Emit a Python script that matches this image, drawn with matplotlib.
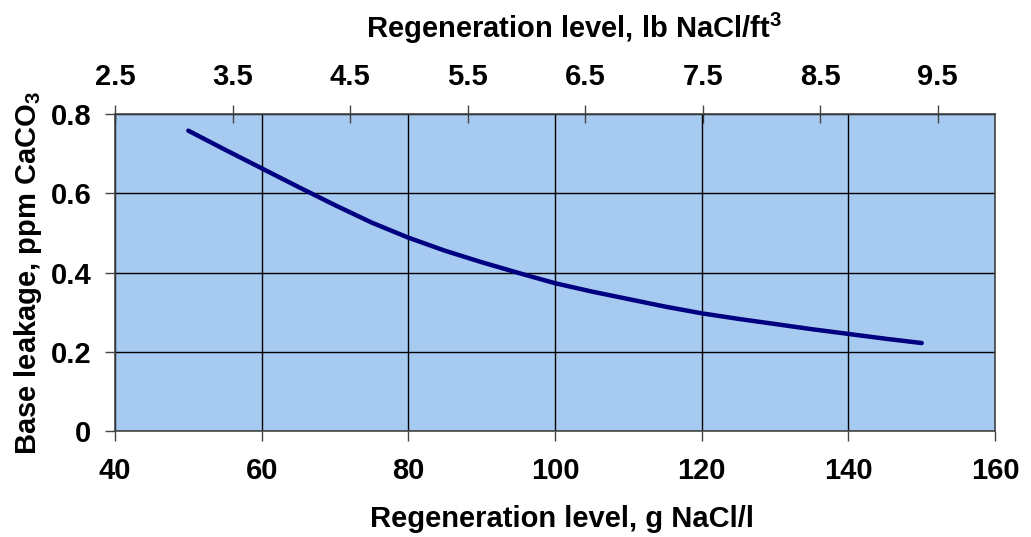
import matplotlib
matplotlib.use("Agg")
import matplotlib.pyplot as plt

plt.rcParams['font.family'] = ['Liberation Sans', 'DejaVu Sans']
plt.rcParams['font.weight'] = 'bold'
plt.rcParams['mathtext.fontset'] = 'custom'
plt.rcParams['mathtext.rm'] = 'Liberation Sans:bold'
plt.rcParams['mathtext.bf'] = 'Liberation Sans:bold'

# regeneration level (g NaCl/l) vs base leakage (ppm CaCO3)
regen_g = [50, 55, 60, 65, 70, 75, 80, 85, 90, 95, 100, 105, 110, 115, 120,
           125, 130, 135, 140, 145, 150]
leakage = [0.758, 0.710, 0.663, 0.616, 0.570, 0.526, 0.488, 0.455, 0.426, 0.399,
           0.373, 0.352, 0.333, 0.314, 0.297, 0.283, 0.270, 0.257, 0.245, 0.233, 0.222]

bottom_ticks = [40, 60, 80, 100, 120, 140, 160]
top_ticks = [2.5, 3.5, 4.5, 5.5, 6.5, 7.5, 8.5, 9.5]
y_ticks = [0, 0.2, 0.4, 0.6, 0.8]
y_ticklabels = ['0', '0.2', '0.4', '0.6', '0.8']

G_PER_LB = 16.018  # g/l per lb/ft3

fig = plt.figure(figsize=(10.31, 5.37), dpi=100)
ax = fig.add_axes([0.1115, 0.1974, 0.8536, 0.5903])
ax.set_facecolor('#A6CAF0')

ax.plot(regen_g, leakage, color='#000080', lw=3.2, solid_capstyle='round')

ax.set_xlim(40, 160)
ax.set_ylim(0, 0.8)
ax.set_xticks(bottom_ticks)
ax.set_yticks(y_ticks)
ax.set_yticklabels(y_ticklabels)
ax.grid(True, color='black', lw=1.0)
ax.set_axisbelow(True)

for s in ax.spines.values():
    s.set_color('#444444')
    s.set_linewidth(1.2)

ax.tick_params(axis='both', direction='out', length=7, width=1, color='#444444',
               labelsize=21)
ax.tick_params(axis='x', pad=12)
ax.tick_params(axis='y', pad=10)

ax.set_xlabel('Regeneration level, g NaCl/l', fontsize=21, fontweight='bold')
ax.xaxis.set_label_coords(0.508, -0.235)
ax.set_ylabel(r'Base leakage, ppm CaCO$_\mathbf{3}$', fontsize=21, fontweight='bold', labelpad=5)

top = ax.secondary_xaxis('top', functions=(lambda x: x / G_PER_LB, lambda x: x * G_PER_LB))
top.set_xticks(top_ticks)
top.set_xticklabels(['%.1f' % t for t in top_ticks])
top.tick_params(direction='inout', length=13, width=1, color='#444444', labelsize=21, pad=10)
top.spines['top'].set_visible(False)
top.set_xlabel(r'Regeneration level, lb NaCl/ft$^\mathbf{3}$', fontsize=21, fontweight='bold')
top.xaxis.set_label_coords(0.522, 1.24, transform=ax.transAxes)

fig.savefig('out.png', dpi=100)
